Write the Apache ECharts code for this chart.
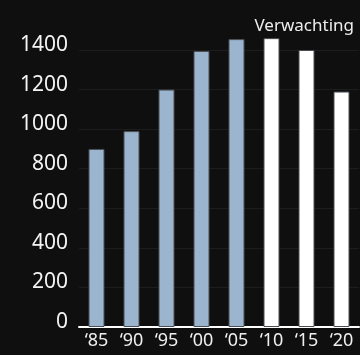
<!DOCTYPE html>
<html>
<head>
<meta charset="utf-8">
<script src="https://cdn.jsdelivr.net/npm/echarts@6/dist/echarts.min.js"></script>
<style>
  html, body { margin: 0; padding: 0; background: #0f0f0f; }
  #chart-container { width: 360px; height: 355px; }
</style>
</head>
<body>
<div id="chart-container"></div>
<script>
var dom = document.getElementById("chart-container");
var myChart = echarts.init(dom, null, { renderer: "canvas" });

var years = ["\u201885", "\u201890", "\u201895", "\u201800", "\u201805", "\u201810", "\u201815", "\u201820"];
var values = [900, 990, 1200, 1395, 1455, 1460, 1400, 1190];
var actualCount = 5; // the rest is "Verwachting"
var forecastLabel = "Verwachting";

var option = {
  backgroundColor: "#0f0f0f",
  textStyle: { fontFamily: "Noto Sans" },
  title: {
    text: forecastLabel,
    right: 1,
    top: 13,
    textStyle: { color: "#eeeeee", fontSize: 17, fontWeight: "normal", fontFamily: "Noto Sans" },
  },
  grid: { left: 79, right: 1, top: 50, bottom: 28 },
  xAxis: {
    type: "category",
    data: years,
    axisLine: { lineStyle: { color: "#ffffff", width: 2 } },
    axisTick: { show: false },
    axisLabel: { color: "#eeeeee", fontSize: 18, margin: 5 },
  },
  yAxis: {
    type: "value",
    min: 0,
    max: 1400,
    interval: 200,
    axisLabel: {
      color: "#f4f4f4",
      fontSize: 21,
      margin: 11,
      verticalAlign: "bottom",
      lineHeight: 10,
      formatter: function (v) { return String(v); },
    },
    splitLine: { lineStyle: { color: "#1d1d1d", width: 1 } },
  },
  series: [
    {
      type: "bar",
      data: values,
      barWidth: 16,
      clip: false,
      itemStyle: {
        color: function (p) {
          return p.dataIndex < actualCount ? "#9ab5cd" : "#ffffff";
        },
        borderColor: "#4a4f55",
        borderWidth: 1,
      },
    },
  ],
};

myChart.setOption(option);
</script>
</body>
</html>
